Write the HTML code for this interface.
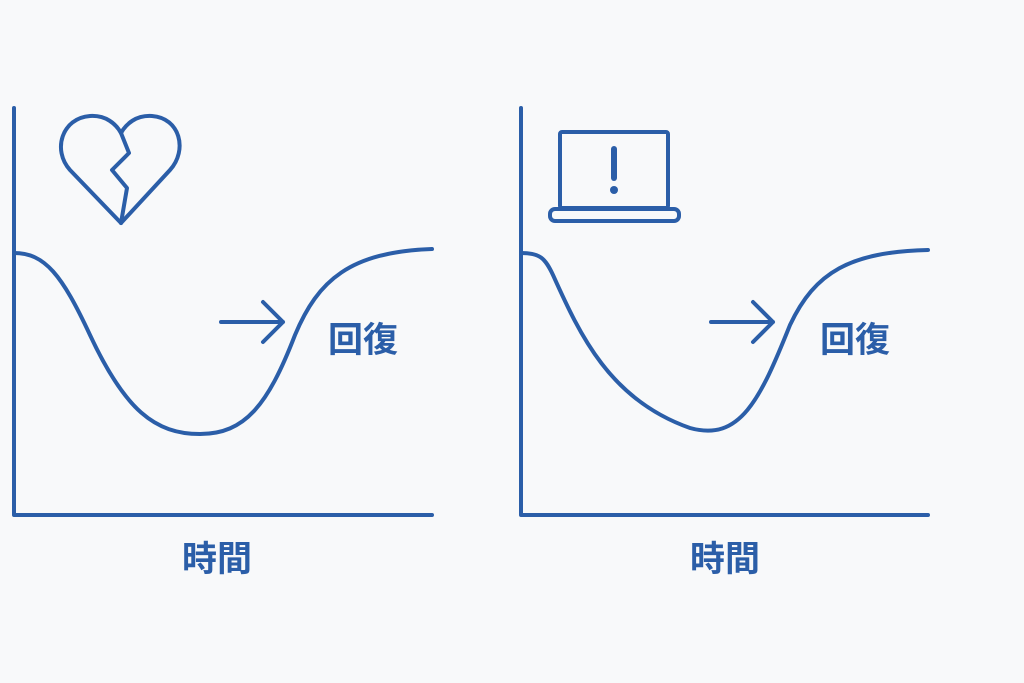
<!DOCTYPE html>
<html><head><meta charset="utf-8"><style>
html,body{margin:0;padding:0;background:#f8f9fa;}
svg{display:block}
text{font-family:"Liberation Sans","Noto Sans CJK JP",sans-serif;font-weight:bold;fill:#2b5ea8}
</style></head><body>
<svg width="1024" height="683" viewBox="0 0 1024 683">
<rect width="1024" height="683" fill="#f8f9fa"/>
<g fill="none" stroke="#2b5ea8" stroke-width="4" stroke-linecap="round" stroke-linejoin="round">
<!-- left chart -->
<path d="M14,108 L14,515 L432,515"/>
<path d="M14,253 C45,253 62,275 90,335 C125,410 155,434 200,434 C245,434 268,405 295,335 C318,280 350,252 432,249"/>
<path d="M221,322 L283,322 M263,302 L283,322 L263,342"/>
<path d="M121,223 L70,170 C52,150 62,118 90,116 C106,115 116,124 121,133 C126,124 136,115 152,116 C180,118 188,150 170,170 Z"/>
<path d="M121,133 L129,153 L112,170 L127,188 L121,223"/>
<!-- right chart -->
<path d="M521,108 L521,515 L928,515"/>
<path d="M521,253 C540,253 545,258 553,275 C580,335 610,400 690,428 C740,442 760,400 790,325 C815,272 850,252 928,250"/>
<path d="M711,322 L773,322 M753,302 L773,322 L753,342"/>
<rect x="560" y="132" width="108" height="76" rx="2"/>
<rect x="550" y="209" width="129" height="12" rx="5"/>
</g>
<g fill="#2b5ea8">
<rect x="611" y="146" width="6" height="35" rx="3"/>
<circle cx="614" cy="190" r="4"/>
</g>
<text x="363" y="352" font-size="35" text-anchor="middle">回復</text>
<text x="855" y="352" font-size="35" text-anchor="middle">回復</text>
<text x="217" y="571" font-size="35" text-anchor="middle">時間</text>
<text x="725" y="571" font-size="35" text-anchor="middle">時間</text>
</svg>
</body></html>
